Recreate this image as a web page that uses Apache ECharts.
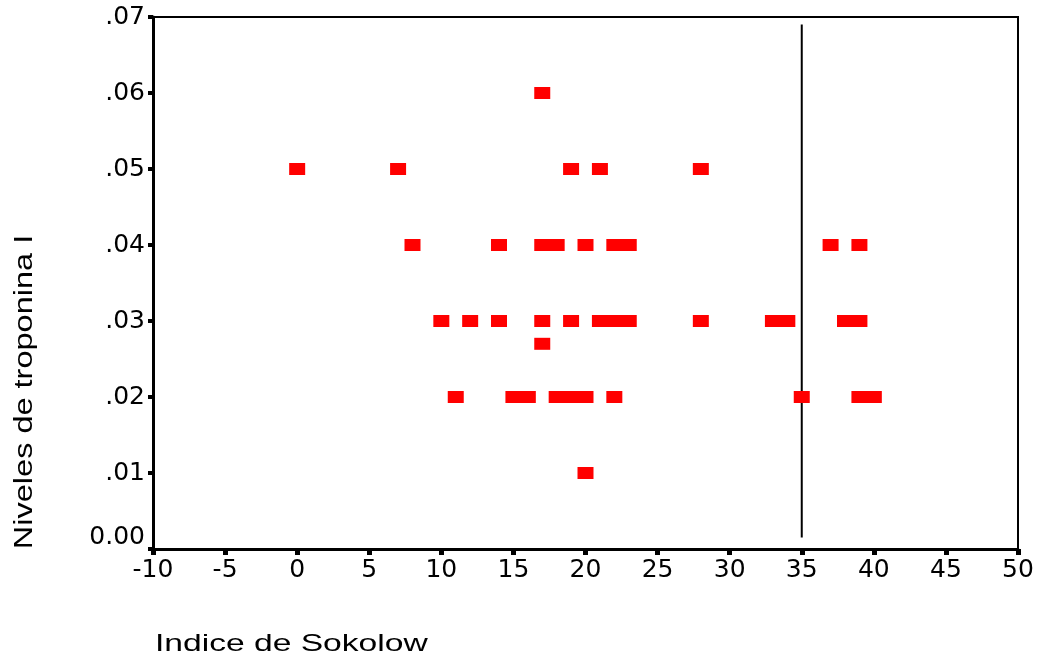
<!DOCTYPE html>
<html>
<head>
<meta charset="utf-8">
<script src="https://cdn.jsdelivr.net/npm/echarts@6/dist/echarts.min.js"></script>
<style>
html,body{margin:0;padding:0;background:#fff;}
#chart{width:1043px;height:662px;}
</style>
</head>
<body>
<div id="chart"></div>
<script>
// Indice de Sokolow (x) vs Niveles de troponina I (y)
const sokolow = [
  17,
  0, 7, 19, 21, 28,
  8, 14, 17, 18, 20, 22, 23, 37, 39,
  10, 12, 14, 17, 19, 21, 22, 23, 28, 33, 34, 38, 39,
  17,
  11, 15, 16, 18, 19, 20, 22, 35, 39, 40,
  20
];
const troponina = [
  0.06,
  0.05, 0.05, 0.05, 0.05, 0.05,
  0.04, 0.04, 0.04, 0.04, 0.04, 0.04, 0.04, 0.04, 0.04,
  0.03, 0.03, 0.03, 0.03, 0.03, 0.03, 0.03, 0.03, 0.03, 0.03, 0.03, 0.03, 0.03,
  0.027,
  0.02, 0.02, 0.02, 0.02, 0.02, 0.02, 0.02, 0.02, 0.02, 0.02,
  0.01
];
const refLineX = [35, 35];
const refLineY = [0.0015, 0.069];
const xTitle = 'Indice de Sokolow';
const yTitle = 'Niveles de troponina I';

const points = sokolow.map((x, i) => [x, troponina[i]]);
const refLine = refLineX.map((x, i) => [x, refLineY[i]]);

const font = 'Liberation Sans, Arial, sans-serif';
const tickFont = 'DejaVu Sans, sans-serif';
const chart = echarts.init(document.getElementById('chart'));
chart.setOption({
  animation: false,
  backgroundColor: '#fff',
  graphic: [
    {
      type: 'text', left: 155, top: 632,
      scaleX: 1.4, originX: 0,
      style: {text: xTitle, font: '24px ' + font, fill: '#000'}
    },
    {
      type: 'text', x: 25, y: 392, rotation: Math.PI / 2, scaleX: 1.25,
      style: {text: yTitle, font: '26px ' + font, fill: '#000', align: 'center', verticalAlign: 'middle'}
    }
  ],
  grid: {
    left: 153, right: 25, top: 17, bottom: 113,
    show: true, borderColor: '#000', borderWidth: 2, backgroundColor: 'transparent'
  },
  xAxis: {
    type: 'value', min: -10, max: 50, interval: 5,
    splitLine: {show: false},
    axisLine: {onZero: false, lineStyle: {color: '#000', width: 3}},
    axisTick: {show: true, length: 6, lineStyle: {color: '#000', width: 5}},
    axisLabel: {fontFamily: tickFont, fontSize: 25, color: '#000', margin: 9}
  },
  yAxis: {
    type: 'value', min: 0, max: 0.07, interval: 0.01,
    splitLine: {show: false},
    axisLine: {onZero: false, lineStyle: {color: '#000', width: 3}},
    axisTick: {show: true, length: 5, lineStyle: {color: '#000', width: 4}},
    axisLabel: {
      fontFamily: tickFont, fontSize: 25, color: '#000', margin: 8,
      formatter: v => v === 0 ? '{z|0.00}' : '{n|' + v.toFixed(2).replace(/^0/, '') + '}',
      rich: {
        z: {fontFamily: tickFont, fontSize: 25, color: '#000', padding: [0, 0, 24, 0]},
        n: {fontFamily: tickFont, fontSize: 25, color: '#000'}
      }
    }
  },
  series: [
    {
      type: 'scatter',
      data: points,
      symbol: 'rect',
      symbolSize: [16, 12],
      itemStyle: {color: '#ff0000', opacity: 1},
      z: 3
    },
    {
      type: 'line',
      data: refLine,
      symbol: 'none',
      lineStyle: {color: '#000', width: 2},
      z: 2
    }
  ]
});
</script>
</body>
</html>
